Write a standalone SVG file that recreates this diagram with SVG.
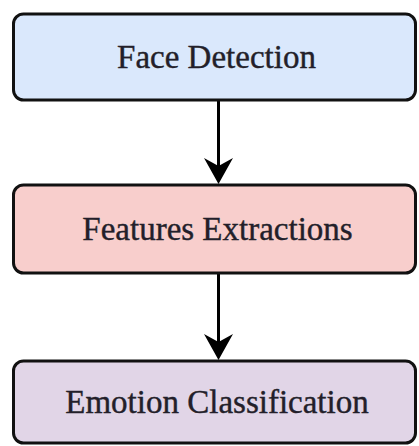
<svg xmlns="http://www.w3.org/2000/svg" width="419" height="446" viewBox="0 0 419 446">
  <style>
    .box { stroke: #111; stroke-width: 3; }
    .lbl { font-family: "Liberation Serif", "Times New Roman", serif; font-size: 33px; fill: #231f2a; stroke: #231f2a; stroke-width: 0.4; text-anchor: middle; }
    .conn line { stroke: #000; stroke-width: 3; }
    .conn path { fill: #000; }
  </style>
  <rect width="419" height="446" fill="#ffffff"/>
  <g id="connectors" class="conn">
    <line x1="218.5" y1="100" x2="218.5" y2="170"/>
    <path d="M218.5,184 L204,158 L218.5,166 L233,158 Z"/>
    <line x1="218.5" y1="273" x2="218.5" y2="346"/>
    <path d="M218.5,360 L204,334 L218.5,342 L233,334 Z"/>
  </g>
  <g id="face-detection">
    <rect class="box" x="13.5" y="14" width="402" height="86" rx="10" fill="#dae8fc"/>
    <text class="lbl" x="216.5" y="68">Face Detection</text>
  </g>
  <g id="features-extractions">
    <rect class="box" x="13.5" y="185" width="402" height="88" rx="10" fill="#f8cecc"/>
    <text class="lbl" x="217.5" y="240">Features Extractions</text>
  </g>
  <g id="emotion-classification">
    <rect class="box" x="13.5" y="361" width="402" height="82" rx="10" fill="#e1d5e7"/>
    <text class="lbl" x="217" y="413">Emotion Classification</text>
  </g>
</svg>
